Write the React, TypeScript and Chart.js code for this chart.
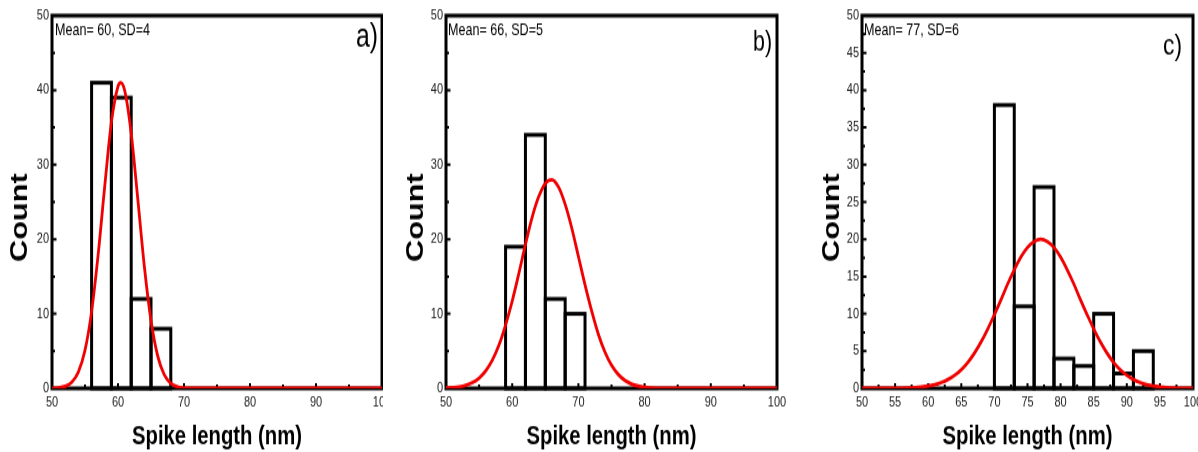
import React, { useEffect, useRef } from "react";
import { Chart, registerables } from "chart.js";

Chart.register(...registerables);

// ---------- data ----------
const BIN_WIDTH = 3;

const binStartsA = [56, 59, 62, 65];
const countsA = [41, 39, 12, 8];
const fitXA = [50, 51, 52, 53, 54, 55, 56, 57, 58, 59, 60, 60.4, 61, 62, 63, 64, 65, 66, 67, 68, 69, 70, 71, 72, 80, 90, 100];
const fitYA = [0.02, 0.08, 0.27, 0.83, 2.2, 5.1, 10.3, 18.0, 27.2, 35.7, 40.5, 41, 40.0, 34.2, 25.4, 16.3, 9.1, 4.4, 1.85, 0.67, 0.21, 0.06, 0.01, 0, 0, 0, 0];

const binStartsB = [59, 62, 65, 68];
const countsB = [19, 34, 12, 10];
const fitXB = [50, 51, 52, 53, 54, 55, 56, 57, 58, 59, 60, 61, 62, 63, 64, 65, 66, 67, 68, 69, 70, 71, 72, 73, 74, 75, 76, 77, 78, 79, 80, 81, 82, 83, 90, 100];
const fitYB = [0.04, 0.1, 0.2, 0.41, 0.77, 1.38, 2.34, 3.79, 5.8, 8.5, 11.7, 15.4, 19.3, 22.9, 25.7, 27.5, 28.0, 27.0, 24.7, 21.5, 17.7, 13.9, 10.4, 7.3, 4.9, 3.1, 1.9, 1.09, 0.6, 0.31, 0.15, 0.07, 0.03, 0, 0, 0];

const binStartsC = [70, 73, 76, 79, 82, 85, 88, 91];
const countsC = [38, 11, 27, 4, 3, 10, 2, 5];
const fitXC = [50, 55, 56, 57, 58, 59, 60, 61, 62, 63, 64, 65, 66, 67, 68, 69, 70, 71, 72, 73, 74, 75, 76, 77, 78, 79, 80, 81, 82, 83, 84, 85, 86, 87, 88, 89, 90, 91, 92, 93, 94, 95, 96, 97, 98, 99, 100];
const fitYC = [0, 0.02, 0.035, 0.064, 0.11, 0.19, 0.31, 0.5, 0.79, 1.2, 1.76, 2.52, 3.5, 4.75, 6.24, 7.97, 9.9, 11.9, 14.0, 15.9, 17.6, 18.9, 19.7, 20, 19.7, 18.9, 17.6, 15.9, 14.0, 11.9, 9.9, 7.97, 6.24, 4.75, 3.5, 2.52, 1.76, 1.2, 0.79, 0.5, 0.31, 0.19, 0.11, 0.064, 0.035, 0.019, 0.01];

const xTicksAB = [50, 60, 70, 80, 90, 100];
const xMinorAB = [55, 65, 75, 85, 95];
const yTicksAB = [0, 10, 20, 30, 40, 50];
const yMinorAB = [5, 15, 25, 35, 45];
const xTicksC = [50, 55, 60, 65, 70, 75, 80, 85, 90, 95, 100];
const xMinorC = [52.5, 57.5, 62.5, 67.5, 72.5, 77.5, 82.5, 87.5, 92.5, 97.5];
const yTicksC = [0, 5, 10, 15, 20, 25, 30, 35, 40, 45, 50];
const yMinorC = [2.5, 7.5, 12.5, 17.5, 22.5, 27.5, 32.5, 37.5, 42.5, 47.5];

const meanTexts = ["Mean= 60, SD=4", "Mean= 66, SD=5", "Mean= 77, SD=6"];
const panelLabels = ["a)", "b)", "c)"];
const X_TITLE = "Spike length (nm)";
const Y_TITLE = "Count";

// The original figure is vertically stretched: draw on a shorter canvas and stretch it with CSS.
const VIEW_H = 452;
const CANVAS_H = 348;

const SANS = '"Liberation Sans", Arial, "DejaVu Sans", sans-serif';

function drawFitted(
  ctx: CanvasRenderingContext2D,
  text: string,
  x: number,
  y: number,
  font: string,
  targetW: number,
  align: CanvasTextAlign,
  rot = 0
) {
  ctx.save();
  ctx.font = font;
  const w = ctx.measureText(text).width;
  const sx = targetW > 0 ? targetW / w : 1;
  ctx.translate(x, y);
  if (rot) ctx.rotate(rot);
  ctx.scale(sx, 1);
  ctx.textAlign = align;
  ctx.textBaseline = "alphabetic";
  ctx.fillStyle = "#000";
  ctx.fillText(text, 0, 0);
  ctx.restore();
}

const decoPlugin = {
  id: "deco",
  beforeDatasetsDraw(chart: any, _args: any, o: any) {
    const { ctx, chartArea: a } = chart;
    const xs = chart.scales.x;
    const ys = chart.scales.y;
    ctx.save();
    ctx.strokeStyle = "#000";
    ctx.lineWidth = 3;
    ctx.strokeRect(a.left, a.top, a.right - a.left, a.bottom - a.top);
    ctx.lineWidth = 2;
    ctx.beginPath();
    const tick = (vals: number[], len: number, horiz: boolean) => {
      for (const v of vals) {
        if (horiz) {
          const px = xs.getPixelForValue(v);
          ctx.moveTo(px, a.bottom);
          ctx.lineTo(px, a.bottom - len);
        } else {
          const py = ys.getPixelForValue(v);
          ctx.moveTo(a.left, py);
          ctx.lineTo(a.left + len, py);
        }
      }
    };
    tick(o.xTicks, 4, true);
    tick(o.xMinor, 3, true);
    tick(o.yTicks, 4.5, false);
    tick(o.yMinor, 3, false);
    ctx.stroke();
    ctx.restore();
  },
  afterDatasetDraw(chart: any, args: any) {
    if (args.index !== 0) return;
    const ctx = chart.ctx;
    ctx.save();
    ctx.strokeStyle = "#000";
    ctx.lineWidth = 3;
    for (const el of args.meta.data) {
      const { x, y, base, width } = el.getProps(["x", "y", "base", "width"], true);
      ctx.strokeRect(x - width / 2, y, width, base - y);
    }
    ctx.restore();
  },
  afterDraw(chart: any, _args: any, o: any) {
    const { ctx, chartArea: a } = chart;
    drawFitted(ctx, o.meanText, a.left + o.meanDx, 27.3, `13px ${SANS}`, 95, "left");
    drawFitted(ctx, o.label, a.right - o.labelDx, o.labelBase, `${o.labelSize}px ${SANS}`, o.labelW, "right");
    drawFitted(ctx, Y_TITLE, a.left - o.countDx + 8.6, 167.5, `bold 24px ${SANS}`, 68.5, "center", -Math.PI / 2);
    drawFitted(ctx, X_TITLE, (a.left + a.right) / 2, 342.3, `bold 21px ${SANS}`, 170, "center");
  },
};

type PanelCfg = {
  binStarts: number[];
  counts: number[];
  fitX: number[];
  fitY: number[];
  xTicks: number[];
  xMinor: number[];
  yTicks: number[];
  yMinor: number[];
  meanText: string;
  label: string;
  left: number;
  width: number;
  axisW: number;
  padRight: number;
  meanDx: number;
  labelDx: number;
  labelBase: number;
  labelSize: number;
  labelW: number;
  countDx: number;
};

const panels: PanelCfg[] = [
  {
    binStarts: binStartsA, counts: countsA, fitX: fitXA, fitY: fitYA,
    xTicks: xTicksAB, xMinor: xMinorAB, yTicks: yTicksAB, yMinor: yMinorAB,
    meanText: meanTexts[0], label: panelLabels[0],
    left: 0, width: 383, axisW: 52, padRight: 1,
    meanDx: 3, labelDx: 4, labelBase: 35.8, labelSize: 25, labelW: 22, countDx: 34,
  },
  {
    binStarts: binStartsB, counts: countsB, fitX: fitXB, fitY: fitYB,
    xTicks: xTicksAB, xMinor: xMinorAB, yTicks: yTicksAB, yMinor: yMinorAB,
    meanText: meanTexts[1], label: panelLabels[1],
    left: 392, width: 400, axisW: 54, padRight: 15,
    meanDx: 2, labelDx: 5, labelBase: 38.8, labelSize: 22, labelW: 19, countDx: 32,
  },
  {
    binStarts: binStartsC, counts: countsC, fitX: fitXC, fitY: fitYC,
    xTicks: xTicksC, xMinor: xMinorC, yTicks: yTicksC, yMinor: yMinorC,
    meanText: meanTexts[2], label: panelLabels[2],
    left: 800, width: 398, axisW: 62, padRight: 5,
    meanDx: 2, labelDx: 11, labelBase: 42.3, labelSize: 22, labelW: 19, countDx: 32,
  },
];

function Panel({ p }: { p: PanelCfg }) {
  const ref = useRef<HTMLCanvasElement>(null);
  useEffect(() => {
    const tickFont = { family: SANS, size: 11 };
    const bars = p.binStarts.map((s, i) => ({ x: s + BIN_WIDTH / 2, y: p.counts[i] }));
    const curve = p.fitX.map((x, i) => ({ x, y: p.fitY[i] }));
    const chart = new Chart(ref.current as HTMLCanvasElement, {
      type: "bar",
      data: {
        datasets: [
          {
            type: "bar",
            data: bars as any,
            backgroundColor: "rgba(255,255,255,0)",
            borderWidth: 0,
            barPercentage: 1,
            categoryPercentage: 1,
            order: 1,
          } as any,
          {
            type: "line",
            data: curve as any,
            borderColor: "#f00000",
            borderWidth: 2.8,
            pointRadius: 0,
            fill: false,
            cubicInterpolationMode: "monotone",
            order: 0,
          } as any,
        ],
      },
      options: {
        responsive: false,
        animation: false,
        devicePixelRatio: 1,
        layout: { padding: { left: 0, right: p.padRight, top: 12, bottom: 0 }, autoPadding: false } as any,
        plugins: {
          legend: { display: false },
          tooltip: { enabled: false },
          deco: {
            xTicks: p.xTicks, xMinor: p.xMinor, yTicks: p.yTicks, yMinor: p.yMinor,
            meanText: p.meanText, label: p.label, meanDx: p.meanDx, labelDx: p.labelDx,
            labelBase: p.labelBase, labelSize: p.labelSize, labelW: p.labelW, countDx: p.countDx,
          },
        } as any,
        scales: {
          x: {
            type: "linear",
            min: 50,
            max: 100,
            offset: false,
            grid: { display: false, drawTicks: false },
            border: { display: false },
            afterBuildTicks: (s: any) => {
              s.ticks = p.xTicks.map((v) => ({ value: v }));
            },
            afterFit: (s: any) => {
              s.height = CANVAS_H - 299;
              s.paddingLeft = 0;
              s.paddingRight = 0;
            },
            ticks: { autoSkip: false, maxRotation: 0, minRotation: 0, padding: 4.7, color: "#1a1a1a", font: tickFont },
          },
          y: {
            type: "linear",
            min: 0,
            max: 50,
            grid: { display: false, drawTicks: false },
            border: { display: false },
            afterBuildTicks: (s: any) => {
              s.ticks = p.yTicks.map((v) => ({ value: v }));
            },
            afterFit: (s: any) => {
              s.width = p.axisW;
              s.paddingTop = 0;
              s.paddingBottom = 0;
            },
            ticks: { autoSkip: false, padding: 3, color: "#1a1a1a", font: tickFont },
          },
        } as any,
      },
      plugins: [decoPlugin as any],
    });
    return () => chart.destroy();
  }, [p]);
  return (
    <canvas
      ref={ref}
      width={p.width}
      height={CANVAS_H}
      style={{ position: "absolute", left: p.left, top: 0, width: p.width, height: VIEW_H }}
    />
  );
}

export default function App() {
  return (
    <div
      style={{
        position: "fixed",
        left: 0,
        top: 0,
        width: 1198,
        height: VIEW_H,
        background: "#fff",
        overflow: "hidden",
      }}
    >
      {panels.map((p, i) => (
        <Panel key={i} p={p} />
      ))}
    </div>
  );
}
